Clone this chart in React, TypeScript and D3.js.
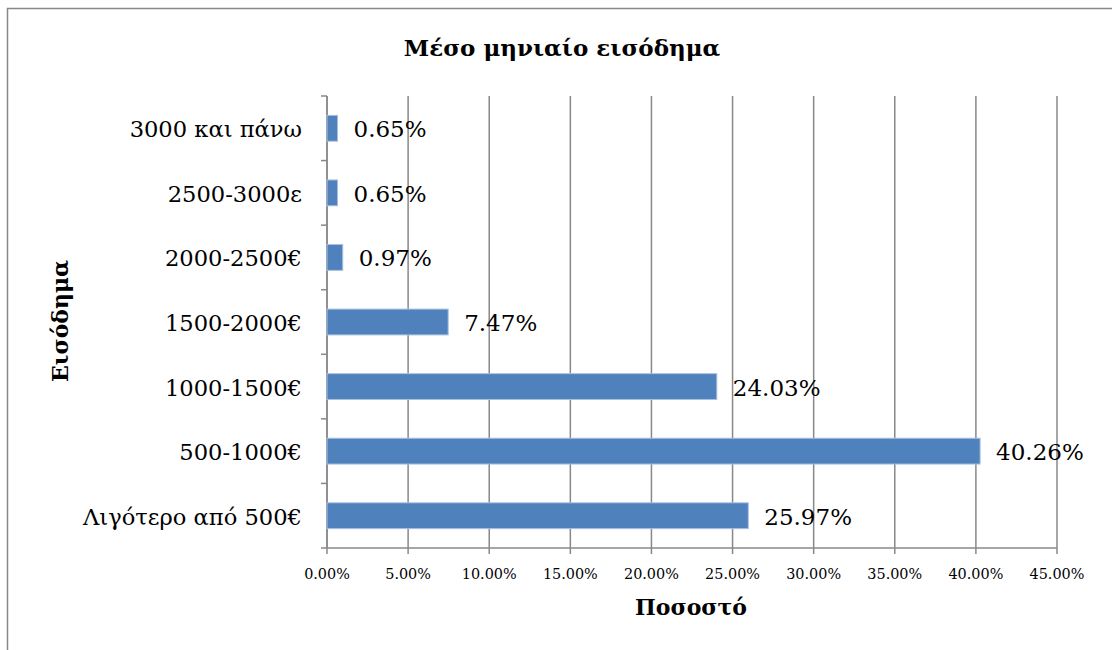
import React from 'react';
import * as d3 from 'd3';

// income brackets, bottom to top as they appear
const categories = [
  'Λιγότερο από 500€',
  '500-1000€',
  '1000-1500€',
  '1500-2000€',
  '2000-2500€',
  '2500-3000ε',
  '3000 και πάνω',
];
const percents = [25.97, 40.26, 24.03, 7.47, 0.97, 0.65, 0.65];
const xTicks = [0, 5, 10, 15, 20, 25, 30, 35, 40, 45];

const W = 1112;
const H = 650;
const font = '"DejaVu Serif", "Liberation Serif", serif';

const App = () => {
  const left = 327;
  const right = 1057;
  const top = 96;
  const bottom = 548;

  const x = d3.scaleLinear().domain([0, 45]).range([left, right]);
  const y = d3
    .scaleBand<string>()
    .domain(categories.slice().reverse())
    .range([top, bottom])
    .paddingInner(0.6)
    .paddingOuter(0.3);
  // category boundaries for the tick marks on the y axis
  const yBounds = d3.range(categories.length + 1).map(i => top + i * ((bottom - top) / categories.length));

  return (
    <svg
      width={W}
      height={H}
      style={{ position: 'absolute', left: 0, top: 0, background: '#fff' }}
      fontFamily={font}
    >
      <rect x={7.5} y={8.5} width={1200} height={800} fill="#fff" stroke="#888" strokeWidth={1.5} />

      <text x={562} y={56} textAnchor="middle" fontSize={23} fontWeight="bold">
        Μέσο μηνιαίο εισόδημα
      </text>

      {/* vertical gridlines */}
      {xTicks.map(t => (
        <line key={t} x1={x(t)} x2={x(t)} y1={top} y2={bottom + 6} stroke="#888" strokeWidth={1.5} />
      ))}
      {xTicks.map(t => (
        <text key={'l' + t} x={x(t)} y={bottom + 31} textAnchor="middle" fontSize={14.4}>
          {d3.format('.2f')(t)}%
        </text>
      ))}

      {/* axes */}
      <line x1={left} x2={right} y1={bottom} y2={bottom} stroke="#888" strokeWidth={1.5} />
      <line x1={left} x2={left} y1={top} y2={bottom} stroke="#888" strokeWidth={1.5} />
      {yBounds.map((b, i) => (
        <line key={i} x1={left - 6} x2={left} y1={b} y2={b} stroke="#888" strokeWidth={1.5} />
      ))}

      {/* bars */}
      {categories.map((c, i) => (
        <g key={c}>
          <rect
            x={x(0)}
            y={y(c)}
            width={x(percents[i]) - x(0)}
            height={y.bandwidth()}
            fill="#4F81BD"
            stroke="#A9C1E0"
            strokeWidth={1}
          />
          <text
            x={x(percents[i]) + 16}
            y={(y(c) as number) + y.bandwidth() / 2 + 9}
            fontSize={23}
          >
            {percents[i].toFixed(2)}%
          </text>
          <text
            x={302}
            y={(y(c) as number) + y.bandwidth() / 2 + 9}
            textAnchor="end"
            fontSize={22.6}
          >
            {c}
          </text>
        </g>
      ))}

      <text x={691} y={615} textAnchor="middle" fontSize={22} fontWeight="bold">
        Ποσοστό
      </text>
      <text
        transform={`translate(68,${(top + bottom) / 2 - 1}) rotate(-90)`}
        textAnchor="middle"
        fontSize={22}
        fontWeight="bold"
      >
        Εισόδημα
      </text>
    </svg>
  );
};

export default App;
